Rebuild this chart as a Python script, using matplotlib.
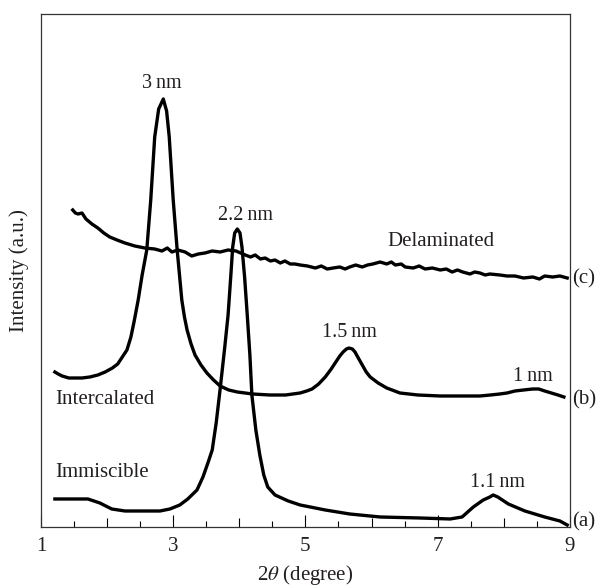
import matplotlib

matplotlib.use("Agg")
import matplotlib.pyplot as plt
from matplotlib.ticker import FixedLocator, MultipleLocator, NullLocator

plt.rcParams["font.family"] = ["Liberation Serif", "DejaVu Serif"]
plt.rcParams["mathtext.fontset"] = "stix"

TXT = "#231f20"

# (a) immiscible
a_x = [1.21, 1.71, 1.89, 2.07, 2.27, 2.80, 2.95, 3.10, 3.22, 3.36, 3.45, 3.53, 3.59,
       3.65, 3.71, 3.78, 3.83, 3.87, 3.90, 3.93, 3.97, 4.01, 4.04, 4.08, 4.12, 4.16,
       4.19, 4.25, 4.31, 4.37, 4.43, 4.54, 4.74, 4.92, 5.30, 5.67, 6.13, 6.73, 7.19,
       7.37, 7.54, 7.69, 7.79, 7.84, 7.91, 8.07, 8.32, 8.62, 8.85, 8.96]
a_y = [28, 28, 24, 18, 16, 16, 18, 22, 28, 37, 50, 65, 77,
       104, 138, 180, 212, 250, 280, 294, 298, 294, 280, 250, 212, 172,
       132, 97, 72, 52, 40, 32, 26, 22, 17, 13, 10, 9, 8,
       10, 20, 27, 30, 32, 30, 23, 16, 10, 6, 2]

# (b) intercalated
b_x = [1.21, 1.26, 1.32, 1.42, 1.51, 1.62, 1.74, 1.86, 1.97, 2.08, 2.16, 2.23, 2.30,
       2.36, 2.41, 2.47, 2.53, 2.60, 2.66, 2.72, 2.78, 2.85, 2.90, 2.94,
       3.00, 3.06, 3.13, 3.17, 3.21, 3.27, 3.33, 3.42, 3.51, 3.61, 3.71, 3.84, 3.97,
       4.20, 4.46, 4.70, 4.92, 5.02, 5.10, 5.20, 5.30, 5.39, 5.46, 5.52, 5.57, 5.62,
       5.66, 5.71, 5.75, 5.80, 5.86, 5.92, 5.98, 6.10, 6.23, 6.43, 6.70, 7.04, 7.35,
       7.64, 7.80, 7.94, 8.05, 8.17, 8.30, 8.44, 8.53, 8.62, 8.72, 8.82, 8.91]
b_y = [155, 153, 151, 149, 149, 149, 150, 152, 155, 159, 163, 170, 177,
       190, 206, 227, 252, 277, 327, 390, 418, 428, 416, 390,
       327, 277, 227, 210, 197, 183, 172, 162, 154, 147, 141, 137, 135,
       133, 132, 132, 134, 136, 138, 143, 150, 158, 165, 171, 175, 178,
       179, 178, 175, 169, 162, 155, 150, 144, 139, 134, 132, 131, 131,
       131, 132, 133, 134, 136, 137, 138, 138, 136, 134, 132, 130]

# (c) delaminated
c_x = [1.48, 1.52, 1.56, 1.62, 1.68, 1.77, 1.86, 1.95, 2.04, 2.15, 2.27, 2.42, 2.57,
       2.72, 2.83, 2.91, 2.98, 3.07, 3.18, 3.28, 3.38, 3.48, 3.59, 3.71, 3.83, 3.95,
       4.09, 4.17, 4.24, 4.32, 4.39, 4.47, 4.54, 4.62, 4.69, 4.77, 4.84, 4.92, 5.03,
       5.15, 5.24, 5.33, 5.42, 5.52, 5.60, 5.67, 5.76, 5.86, 5.94, 6.02, 6.13, 6.23,
       6.30, 6.36, 6.45, 6.51, 6.63, 6.72, 6.81, 6.92, 7.04, 7.13, 7.22, 7.30, 7.38,
       7.49, 7.56, 7.64, 7.72, 7.79, 7.94, 8.05, 8.17, 8.30, 8.44, 8.54, 8.62, 8.74,
       8.85, 8.96]
c_y = [317, 314, 313, 314, 308, 303, 299, 294, 290, 287, 284, 281, 279,
       278, 276, 279, 275, 277, 275, 271, 273, 274, 276, 275, 277, 276,
       272, 270, 272, 268, 269, 266, 267, 264, 266, 263, 263, 262, 261,
       259, 261, 258, 259, 260, 258, 260, 262, 260, 262, 263, 265, 263,
       265, 262, 263, 260, 259, 261, 258, 259, 257, 258, 255, 257, 255,
       253, 255, 254, 252, 253, 252, 251, 251, 249, 250, 248, 251, 250,
       251, 249]

# peak annotations: (label, x, y)
peaks = [("3\u2009nm", 2.83, 444), ("2.2\u2009nm", 4.09, 311), ("1.5\u2009nm", 5.66, 194),
         ("1\u2009nm", 8.44, 150), ("1.1\u2009nm", 7.91, 44)]
names = [("Delaminated", 7.05, 285, "center"), ("Intercalated", 1.21, 127, "left"),
         ("Immiscible", 1.21, 54, "left")]
tags = [("(c)", 248), ("(b)", 127), ("(a)", 5)]
xticks = [1, 3, 5, 7, 9]

fig = plt.figure(figsize=(6.03, 5.86), dpi=100)
ax = fig.add_axes([0.068, 0.1007, 0.877, 0.8754])

for xs, ys in [(a_x, a_y), (b_x, b_y), (c_x, c_y)]:
    ax.plot(xs, ys, color="black", lw=2.4, solid_joinstyle="round")

ax.set_xlim(1, 9)
ax.set_ylim(0, 513)

for label, x, y in peaks:
    ax.text(x, y, label, ha="center", va="center", fontsize=14.5, color=TXT)
for label, x, y, ha in names:
    ax.text(x, y, label, ha=ha, va="center", fontsize=15, color=TXT)
for label, y in tags:
    ax.text(1.005, y, label, transform=ax.get_yaxis_transform(), ha="left",
            va="center", fontsize=15, color=TXT, clip_on=False)

ax.xaxis.set_major_locator(FixedLocator(xticks))
ax.xaxis.set_minor_locator(MultipleLocator(0.5))
ax.yaxis.set_major_locator(NullLocator())
ax.tick_params(axis="x", which="major", direction="in", length=8.6, width=0.8,
               pad=7, labelsize=15, labelcolor=TXT)
ax.tick_params(axis="x", which="minor", direction="in", length=4.3, width=0.8)
fig.canvas.draw()
# whole-degree minor ticks are a bit longer than the half-degree ones
for loc, t in zip(ax.xaxis.get_minorticklocs(), ax.xaxis.get_minor_ticks()):
    if abs(loc - round(loc)) < 1e-6:
        t.tick1line.set_markersize(6.5)

for s in ax.spines.values():
    s.set_linewidth(0.9)
    s.set_color("#333333")

ax.set_xlabel(r"2$\theta$ (degree)", fontsize=15, color=TXT, labelpad=5)
ax.set_ylabel("Intensity (a.u.)", fontsize=15, color=TXT, labelpad=9)

fig.savefig("out.png", dpi=100)
